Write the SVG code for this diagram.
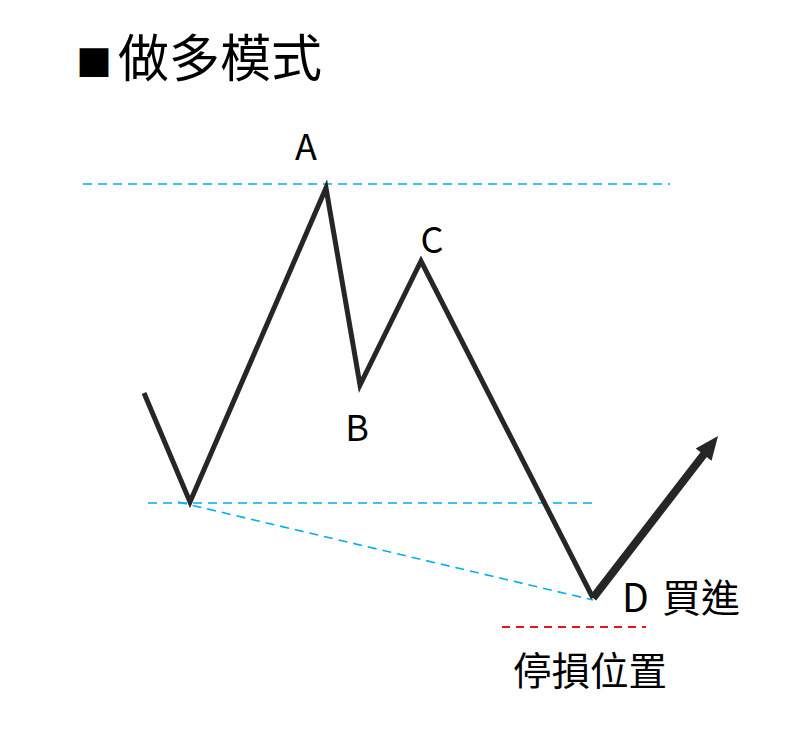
<svg xmlns="http://www.w3.org/2000/svg" width="808" height="732" viewBox="0 0 808 732">
<defs>
<style>
.t{font-family:"Noto Sans CJK TC","Noto Sans",sans-serif;fill:#000}
.blue{stroke:#00aeef;stroke-width:1.6;stroke-dasharray:9 6;fill:none}
.red{stroke:#e8141b;stroke-width:1.8;stroke-dasharray:8 6;fill:none}
.wave{stroke:#262626;stroke-width:5;fill:none;stroke-linejoin:miter}
</style>
<marker id="ah" markerWidth="2.75" markerHeight="2.5" refX="0" refY="1.25" orient="auto" markerUnits="strokeWidth" overflow="visible">
<path d="M-0.2,0 L2.75,1.25 L-0.2,2.5 Z" fill="#262626"/>
</marker>
</defs>
<rect width="808" height="732" fill="#fff"/>
<g id="title"><text class="t" y="77" font-size="51"><tspan x="76" font-size="36">■</tspan><tspan x="118">做多模式</tspan></text></g>
<g id="connectors">
<line class="blue" x1="83" y1="184" x2="670" y2="184"/>
<line class="blue" x1="148" y1="503" x2="592" y2="503"/>
<line class="blue" x1="178" y1="502" x2="593" y2="600"/>
<line class="red" x1="502" y1="627" x2="646" y2="627"/>
<polyline class="wave" points="144,393 190,502 326,188 360,385 421,261 593,598"/>
<line x1="593" y1="598" x2="704.6" y2="453.4" stroke="#262626" stroke-width="8" marker-end="url(#ah)"/>
</g>
<g id="labelA"><text class="t" x="306" y="160" font-size="36" text-anchor="middle">A</text></g>
<g id="labelB"><text class="t" x="357" y="441" font-size="36" text-anchor="middle">B</text></g>
<g id="labelC"><text class="t" x="432" y="253" font-size="36" text-anchor="middle">C</text></g>
<g id="labelD"><text class="t" x="622" y="612" font-size="39">D <tspan x="662">買進</tspan></text></g>
<g id="labelStop"><text class="t" x="513" y="685" font-size="38.5">停損位置</text></g>
</svg>
